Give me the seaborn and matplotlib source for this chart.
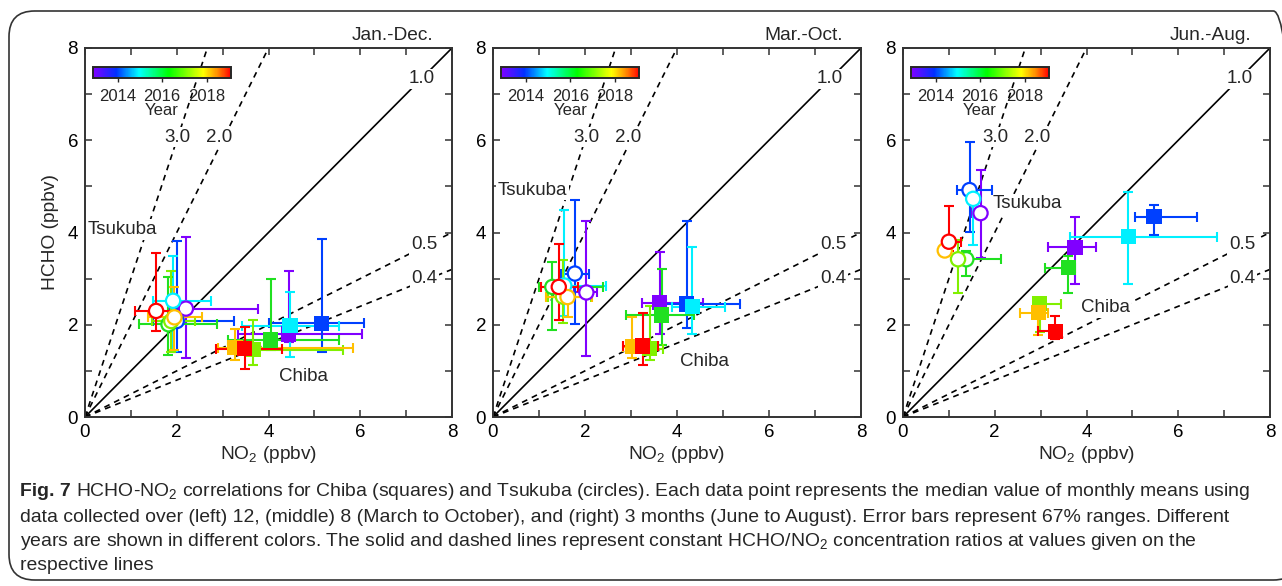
import numpy as np
import pandas as pd
import matplotlib
matplotlib.use("Agg")
import matplotlib.pyplot as plt
import seaborn as sns
from matplotlib.colors import LinearSegmentedColormap, Normalize
from matplotlib.cm import ScalarMappable
from matplotlib.patches import FancyBboxPatch
from matplotlib import font_manager

# ---------------------------------------------------------------- data
years = [2013, 2014, 2015, 2016, 2017, 2018, 2019]
year_colors = ["#8000ff", "#0040ff", "#00f0ff", "#20e020", "#80f000", "#ffbf00", "#ff0000"]

periods = ["Jan.-Dec.", "Mar.-Oct.", "Jun.-Aug."]
ratios = [3.0, 2.0, 1.0, 0.5, 0.4]

# Jan.-Dec. : medians and 67 % ranges (ppbv), one value per year
jd_chiba_no2 = [4.44, 5.16, 4.47, 4.05, 3.67, 3.27, 3.48]
jd_chiba_hcho = [1.80, 2.03, 1.98, 1.67, 1.46, 1.50, 1.48]
jd_chiba_no2_lo = [3.33, 4.00, 3.42, 3.11, 3.20, 2.91, 2.85]
jd_chiba_no2_hi = [6.04, 6.09, 5.53, 5.53, 5.62, 5.85, 4.29]
jd_chiba_hcho_lo = [1.62, 1.41, 1.29, 1.45, 1.12, 1.23, 1.05]
jd_chiba_hcho_hi = [3.17, 3.85, 2.70, 2.99, 2.11, 1.90, 1.96]

jd_tsukuba_no2 = [2.20, 2.00, 1.92, 1.82, 1.88, 1.95, 1.55]
jd_tsukuba_hcho = [2.35, 2.08, 2.52, 2.01, 2.08, 2.16, 2.30]
jd_tsukuba_no2_lo = [1.85, 1.48, 1.48, 1.18, 1.45, 1.38, 1.10]
jd_tsukuba_no2_hi = [3.77, 3.24, 2.75, 2.87, 2.40, 2.55, 2.05]
jd_tsukuba_hcho_lo = [1.28, 1.41, 1.43, 1.34, 1.40, 1.45, 1.87]
jd_tsukuba_hcho_hi = [3.90, 3.82, 3.49, 3.04, 3.17, 2.81, 3.56]

# Mar.-Oct.
mo_chiba_no2 = [3.62, 4.21, 4.33, 3.67, 3.41, 3.03, 3.25]
mo_chiba_hcho = [2.48, 2.45, 2.39, 2.21, 1.48, 1.52, 1.54]
mo_chiba_no2_lo = [3.23, 3.75, 3.90, 2.90, 3.10, 2.82, 2.83]
mo_chiba_no2_hi = [4.57, 5.37, 5.05, 4.36, 3.69, 3.30, 3.59]
mo_chiba_hcho_lo = [1.80, 1.93, 1.80, 1.56, 1.23, 1.27, 1.12]
mo_chiba_hcho_hi = [3.58, 4.26, 3.68, 3.20, 2.40, 2.17, 2.26]

mo_tsukuba_no2 = [2.03, 1.78, 1.55, 1.29, 1.52, 1.62, 1.43]
mo_tsukuba_hcho = [2.70, 3.11, 2.85, 2.82, 2.61, 2.60, 2.82]
mo_tsukuba_no2_lo = [1.75, 1.47, 1.30, 1.00, 1.20, 1.15, 1.04]
mo_tsukuba_no2_hi = [2.25, 2.08, 2.45, 2.40, 2.14, 2.15, 1.85]
mo_tsukuba_hcho_lo = [1.32, 2.01, 2.20, 1.88, 2.04, 2.16, 2.10]
mo_tsukuba_hcho_hi = [4.24, 4.71, 4.49, 3.35, 3.40, 3.00, 3.74]

# Jun.-Aug.
ja_chiba_no2 = [3.75, 5.47, 4.91, 3.60, 2.98, 2.95, 3.32]
ja_chiba_hcho = [3.68, 4.34, 3.91, 3.24, 2.46, 2.26, 1.86]
ja_chiba_no2_lo = [3.15, 5.05, 3.64, 3.09, 2.90, 2.55, 2.95]
ja_chiba_no2_hi = [4.20, 6.40, 6.85, 3.75, 3.45, 3.16, 3.45]
ja_chiba_hcho_lo = [2.88, 3.95, 2.88, 2.68, 1.85, 1.77, 1.70]
ja_chiba_hcho_hi = [4.33, 4.60, 4.87, 3.50, 2.55, 2.50, 2.19]

ja_tsukuba_no2 = [1.69, 1.45, 1.53, 1.38, 1.20, 0.91, 1.00]
ja_tsukuba_hcho = [4.42, 4.92, 4.73, 3.42, 3.42, 3.61, 3.80]
ja_tsukuba_no2_lo = [1.50, 1.18, 1.45, 1.30, 1.10, 0.85, 0.90]
ja_tsukuba_no2_hi = [1.80, 1.93, 1.60, 2.14, 1.30, 1.00, 1.27]
ja_tsukuba_hcho_lo = [3.44, 4.02, 3.73, 3.06, 2.68, 3.50, 3.60]
ja_tsukuba_hcho_hi = [5.36, 5.96, 4.90, 3.60, 3.84, 3.70, 4.58]

panels = [
    {
        "chiba": (jd_chiba_no2, jd_chiba_hcho, jd_chiba_no2_lo, jd_chiba_no2_hi,
                  jd_chiba_hcho_lo, jd_chiba_hcho_hi),
        "tsukuba": (jd_tsukuba_no2, jd_tsukuba_hcho, jd_tsukuba_no2_lo, jd_tsukuba_no2_hi,
                    jd_tsukuba_hcho_lo, jd_tsukuba_hcho_hi),
        "tsukuba_xy": (0.05, 4.07), "chiba_xy": (4.22, 0.87),
    },
    {
        "chiba": (mo_chiba_no2, mo_chiba_hcho, mo_chiba_no2_lo, mo_chiba_no2_hi,
                  mo_chiba_hcho_lo, mo_chiba_hcho_hi),
        "tsukuba": (mo_tsukuba_no2, mo_tsukuba_hcho, mo_tsukuba_no2_lo, mo_tsukuba_no2_hi,
                    mo_tsukuba_hcho_lo, mo_tsukuba_hcho_hi),
        "tsukuba_xy": (0.10, 4.92), "chiba_xy": (4.07, 1.21),
    },
    {
        "chiba": (ja_chiba_no2, ja_chiba_hcho, ja_chiba_no2_lo, ja_chiba_no2_hi,
                  ja_chiba_hcho_lo, ja_chiba_hcho_hi),
        "tsukuba": (ja_tsukuba_no2, ja_tsukuba_hcho, ja_tsukuba_no2_lo, ja_tsukuba_no2_hi,
                    ja_tsukuba_hcho_lo, ja_tsukuba_hcho_hi),
        "tsukuba_xy": (1.96, 4.62), "chiba_xy": (3.87, 2.37),
    },
]

caption_lines = [
    "HCHO-NO$_2$ correlations for Chiba (squares) and Tsukuba (circles). Each data point represents the median value of monthly means using",
    "data collected over (left) 12, (middle) 8 (March to October), and (right) 3 months (June to August). Error bars represent 67% ranges. Different",
    "years are shown in different colors. The solid and dashed lines represent constant HCHO/NO$_2$ concentration ratios at values given on the",
    "respective lines",
]

# ---------------------------------------------------------------- style
sns.set_theme(style="ticks")
plt.rcParams["font.family"] = ["Liberation Sans", "DejaVu Sans"]
plt.rcParams["mathtext.default"] = "regular"

W, H = 1282, 586
fig = plt.figure(figsize=(W / 100, H / 100), dpi=100)
fig.patch.set_facecolor("white")

year_cmap = LinearSegmentedColormap.from_list(
    "year_rainbow",
    [(0.0, "#8000ff"), (1 / 6, "#0030ff"), (2 / 6, "#00ffff"), (0.55, "#00ff00"),
     (0.80, "#ffff00"), (0.90, "#ff9000"), (1.0, "#ff0000")],
)
palette = dict(zip(years, year_colors))

axes_px = [(85, 452), (493, 861), (903, 1270)]
top_px, bot_px = 48, 417

label_pos = {3.0: (2.02, 6.07), 2.0: (2.93, 6.07), 1.0: (7.33, 7.33),
             0.5: (7.40, 3.74), 0.4: (7.40, 3.00)}


def site_frame(vals):
    x, y, xlo, xhi, ylo, yhi = (np.asarray(v, float) for v in vals)
    return pd.DataFrame({"year": years, "no2": x, "hcho": y,
                         "no2_lo": xlo, "no2_hi": xhi, "hcho_lo": ylo, "hcho_hi": yhi})


for i, (panel, period) in enumerate(zip(panels, periods)):
    x0, x1 = axes_px[i]
    ax = fig.add_axes([x0 / W, 1 - bot_px / H, (x1 - x0) / W, (bot_px - top_px) / H])
    ax.set_xlim(0, 8)
    ax.set_ylim(0, 8)

    # constant HCHO/NO2 ratio lines
    for r in ratios:
        xs = np.array([0.0, min(8.0, 8.0 / r)])
        ax.plot(xs, r * xs, color="black", lw=1.2,
                ls="-" if r == 1.0 else (0, (3.5, 3)), zorder=1)
        lx, ly = label_pos[r]
        ax.text(lx, ly, f"{r:.1f}", ha="center", va="center", fontsize=13.5, zorder=2,
                bbox=dict(boxstyle="square,pad=0.1", fc="white", ec="none"))

    chiba = site_frame(panel["chiba"])
    tsuk = site_frame(panel["tsukuba"])

    # 67 % range bars
    for df in (tsuk, chiba):
        for _, row in df.iterrows():
            c = palette[int(row["year"])]
            ax.errorbar(row["no2"], row["hcho"],
                        xerr=[[row["no2"] - row["no2_lo"]], [row["no2_hi"] - row["no2"]]],
                        yerr=[[row["hcho"] - row["hcho_lo"]], [row["hcho_hi"] - row["hcho"]]],
                        fmt="none", ecolor=c, elinewidth=1.5, capsize=3.8, capthick=1.5,
                        zorder=3)

    # Tsukuba: open circles
    sns.scatterplot(data=tsuk, x="no2", y="hcho", hue="year", palette=palette,
                    marker="o", s=105, linewidth=1.6, legend=False, ax=ax, zorder=4)
    coll = ax.collections[-1]
    coll.set_edgecolors(coll.get_facecolors())
    coll.set_facecolors("white")

    # Chiba: filled squares
    sns.scatterplot(data=chiba, x="no2", y="hcho", hue="year", palette=palette,
                    marker="s", s=120, linewidth=0, legend=False, ax=ax, zorder=5)

    tx, ty = panel["tsukuba_xy"]
    ax.text(tx, ty, "Tsukuba", ha="left", va="center", fontsize=13.5, zorder=2,
            bbox=dict(boxstyle="square,pad=0.1", fc="white", ec="none"))
    cx, cy = panel["chiba_xy"]
    ax.text(cx, cy, "Chiba", ha="left", va="center", fontsize=13.5, zorder=2,
            bbox=dict(boxstyle="square,pad=0.1", fc="white", ec="none"))

    ax.text(0.95, 1.01, period, transform=ax.transAxes, ha="right", va="bottom",
            fontsize=13.8)

    ax.set_xticks([0, 2, 4, 6, 8])
    ax.set_yticks([0, 2, 4, 6, 8])
    ax.set_xticks([1, 3, 5, 7], minor=True)
    ax.set_yticks([1, 3, 5, 7], minor=True)
    ax.tick_params(which="both", direction="in", top=True, right=True, length=5,
                   width=1.1, labelsize=13.5, pad=5, color="#333333", labelcolor="black")
    for sp in ax.spines.values():
        sp.set_linewidth(1.4)
        sp.set_color("#333333")
    ax.set_xlabel("NO$_2$ (ppbv)", fontsize=13.8, labelpad=2)
    if i == 0:
        ax.set_ylabel("HCHO (ppbv)", fontsize=13.8, labelpad=6)
    else:
        ax.set_ylabel("")

    # year colour bar
    cax = ax.inset_axes([0.022, 0.918, 0.376, 0.031])
    cb = fig.colorbar(ScalarMappable(norm=Normalize(2012.9, 2019.1), cmap=year_cmap),
                      cax=cax, orientation="horizontal", ticks=[2014, 2016, 2018])
    cb.ax.tick_params(labelsize=12, length=3, width=1, direction="out", pad=5)
    cb.set_label("Year", fontsize=12, labelpad=-1)
    cb.outline.set_linewidth(1.4)

# ---------------------------------------------------------------- caption
available = {f.name for f in font_manager.fontManager.ttflist}
cap_font = [f for f in ["Liberation Sans Narrow", "Liberation Sans"] if f in available]
cap_font.append("DejaVu Sans")
line_y = [492, 517, 541, 566]
cap_left, cap_right = 20, 1247
fig.canvas.draw()
renderer = fig.canvas.get_renderer()


def first_line_width(size):
    b = fig.text(0, 0, "Fig. 7", fontsize=size, fontweight="bold", family=cap_font)
    t = fig.text(0, 0, caption_lines[0], fontsize=size, family=cap_font)
    w = b.get_window_extent(renderer).width + 5 + t.get_window_extent(renderer).width
    b.remove()
    t.remove()
    return w


cap_size = 12.0
cap_size *= (cap_right - cap_left) / first_line_width(cap_size)

bold = fig.text(cap_left / W, 1 - line_y[0] / H, "Fig. 7", fontsize=cap_size,
                fontweight="bold", family=cap_font, va="center", ha="left")
bb = bold.get_window_extent(renderer)
fig.text((bb.x1 + 5) / W, 1 - line_y[0] / H, caption_lines[0], fontsize=cap_size,
         family=cap_font, va="center", ha="left")
for ln, yy in zip(caption_lines[1:], line_y[1:]):
    fig.text(cap_left / W, 1 - yy / H, ln, fontsize=cap_size, family=cap_font,
             va="center", ha="left")

frame = FancyBboxPatch((9 / W, 1 - 580 / H), 1290 / W, 569 / H,
                       boxstyle="round,pad=0,rounding_size=0.02",
                       transform=fig.transFigure, fc="none", ec="#333333", lw=1.2,
                       mutation_aspect=W / H)
fig.patches.append(frame)

fig.savefig("out.png", dpi=100)
